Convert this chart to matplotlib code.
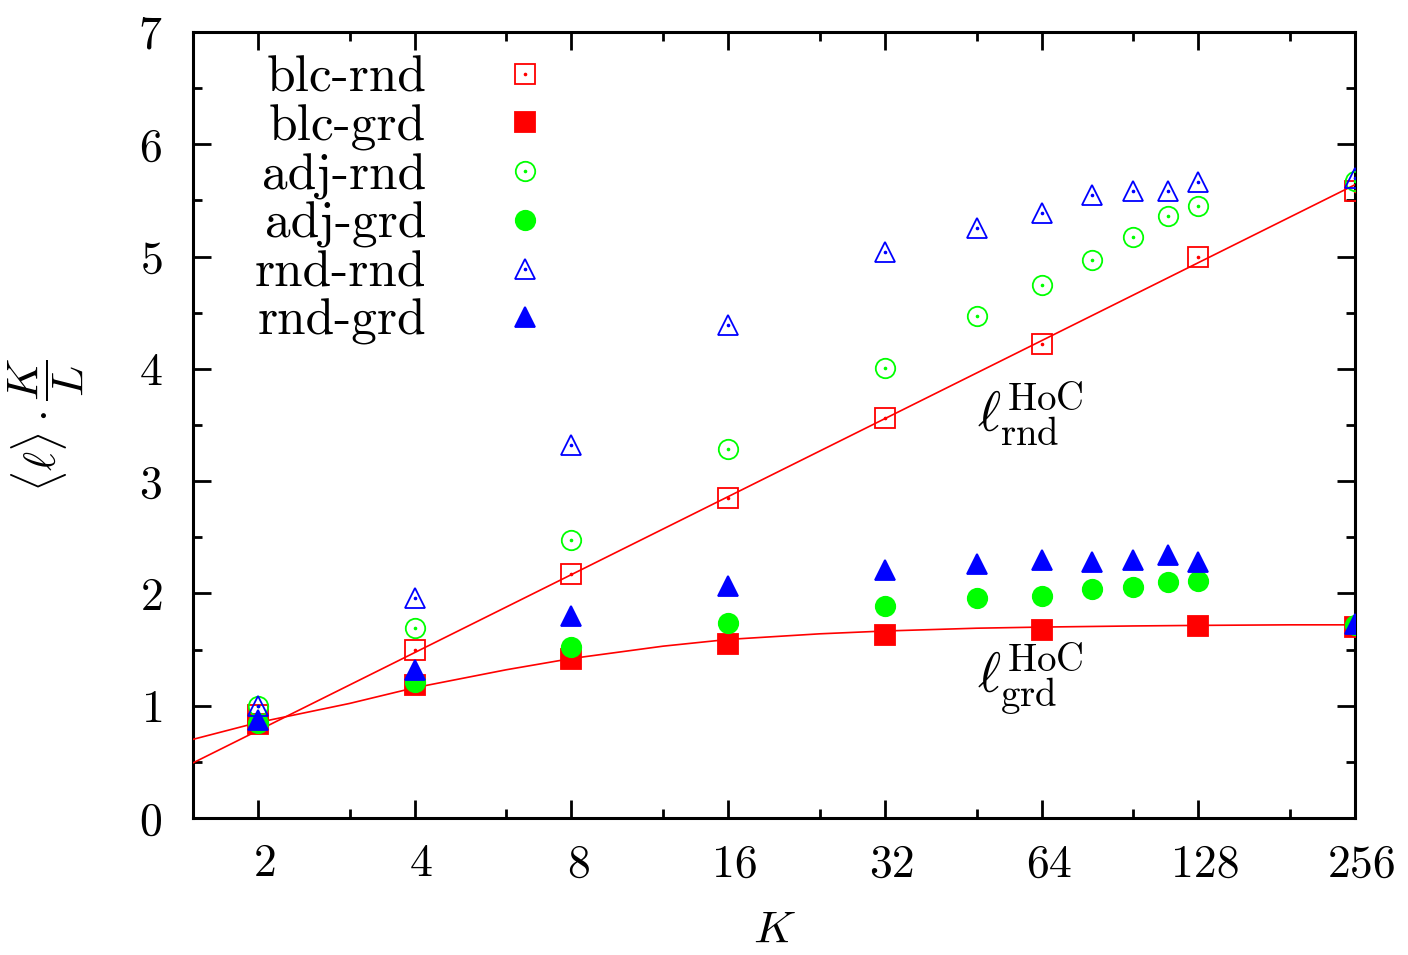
import matplotlib
matplotlib.use("Agg")
import matplotlib.pyplot as plt
import matplotlib.transforms as mtransforms
from matplotlib.ticker import FixedLocator, FixedFormatter, MultipleLocator
from matplotlib.legend_handler import HandlerTuple

plt.rcParams["font.family"] = "serif"
plt.rcParams["font.serif"] = ["cmr10"]
plt.rcParams["mathtext.fontset"] = "cm"
plt.rcParams["axes.formatter.use_mathtext"] = True

# K values
k_short = [2, 4, 8, 16, 32, 64, 128, 256]
k_long = [2, 4, 8, 16, 32, 48, 64, 80, 96, 112, 128, 256]

# series values
blc_rnd = [0.92, 1.50, 2.17, 2.85, 3.56, 4.22, 5.00, 5.58]
blc_grd = [0.84, 1.18, 1.42, 1.55, 1.63, 1.67, 1.71, 1.70]
adj_rnd = [1.00, 1.69, 2.48, 3.29, 4.01, 4.47, 4.75, 4.97, 5.17, 5.36, 5.45, 5.67]
adj_grd = [0.85, 1.21, 1.52, 1.74, 1.89, 1.96, 1.98, 2.04, 2.06, 2.10, 2.11, 1.72]
rnd_rnd = [1.00, 1.96, 3.32, 4.39, 5.04, 5.25, 5.39, 5.55, 5.58, 5.58, 5.66, 5.70]
rnd_grd = [0.87, 1.32, 1.80, 2.07, 2.21, 2.26, 2.30, 2.28, 2.30, 2.34, 2.28, 1.73]

# theory curves
k_rnd_line = [1.5, 256]
hoc_rnd = [0.49, 5.64]
k_grd_line = [1.5, 2, 3, 4, 6, 8, 12, 16, 24, 32, 48, 64, 96, 128, 192, 256]
hoc_grd = [0.70, 0.85, 1.02, 1.16, 1.32, 1.42, 1.53, 1.59, 1.64, 1.665, 1.69,
           1.70, 1.71, 1.715, 1.72, 1.72]

xticks = [2, 4, 8, 16, 32, 64, 128, 256]
xminor = [3, 6, 12, 24, 48, 96, 192]

FS = 33
LFS = 37
RED, GREEN, BLUE = "#ff0000", "#00ff00", "#0000ff"

fig = plt.figure(figsize=(14.08, 9.55), dpi=100)
ax = fig.add_axes([0.137, 0.1435, 0.8254, 0.823])

ax.plot(k_rnd_line, hoc_rnd, color=RED, lw=1.2, zorder=3)
ax.plot(k_grd_line, hoc_grd, color=RED, lw=1.2, zorder=3)

series = [
    ("blc-rnd", k_short, blc_rnd, "s", RED, False),
    ("blc-grd", k_short, blc_grd, "s", RED, True),
    ("adj-rnd", k_long, adj_rnd, "o", GREEN, False),
    ("adj-grd", k_long, adj_grd, "o", GREEN, True),
    ("rnd-rnd", k_long, rnd_rnd, "^", BLUE, False),
    ("rnd-grd", k_long, rnd_grd, "^", BLUE, True),
]
handles, labels = [], []
for label, xs, ys, m, c, filled in series:
    ms = 14 if m != "^" else 15
    h, = ax.plot(xs, ys, ls="none", marker=m, ms=ms, mec=c, mew=1.3,
                 mfc=c if filled else "none", zorder=4)
    if not filled:
        d, = ax.plot(xs, ys, ls="none", marker="o", ms=1.6, mec=c, mfc=c, zorder=4)
        h = (h, d)
    handles.append(h)
    labels.append(label)

ax.set_xscale("log", base=2)
ax.set_xlim(1.5, 256)
ax.set_ylim(0, 7)
ax.xaxis.set_major_locator(FixedLocator(xticks))
ax.xaxis.set_major_formatter(FixedFormatter([str(v) for v in xticks]))
ax.xaxis.set_minor_locator(FixedLocator(xminor))
ax.xaxis.set_minor_formatter(FixedFormatter([""] * len(xminor)))
ax.yaxis.set_major_locator(MultipleLocator(1))
ax.yaxis.set_minor_locator(MultipleLocator(0.5))

for s in ax.spines.values():
    s.set_linewidth(2.2)
ax.tick_params(which="both", direction="in", top=True, right=True, width=2.0,
               labelsize=FS)
ax.tick_params(which="major", length=13)
ax.tick_params(which="minor", length=6.5)
ax.tick_params(axis="x", which="major", pad=18.5)
ax.tick_params(axis="y", which="major", pad=22)

# gnuplot puts the x tick labels a little to the right of the tick
shift = mtransforms.ScaledTranslation(0.07, 0, fig.dpi_scale_trans)
for lab in ax.get_xticklabels():
    lab.set_transform(lab.get_transform() + shift)

ax.set_xlabel(r"$K$", fontsize=FS, labelpad=18)
ax.set_ylabel(r"$\langle \ell \rangle \cdot \dfrac{K}{L}$", fontsize=FS, labelpad=38)

ax.text(48, 3.6, r"$\ell^{\mathrm{HoC}}_{\mathrm{rnd}}$", fontsize=40, va="center")
ax.text(48, 1.23, r"$\ell^{\mathrm{HoC}}_{\mathrm{grd}}$", fontsize=40, va="center")

ax.legend(handles, labels, loc="upper right", bbox_to_anchor=(0.3078, 0.9695),
          frameon=False, markerfirst=False, handlelength=1.0, handletextpad=1.42,
          labelspacing=0.045, borderpad=0, borderaxespad=0, fontsize=LFS,
          numpoints=1, handler_map={tuple: HandlerTuple(ndivide=1, pad=0)})

fig.savefig("out.png", dpi=100)
